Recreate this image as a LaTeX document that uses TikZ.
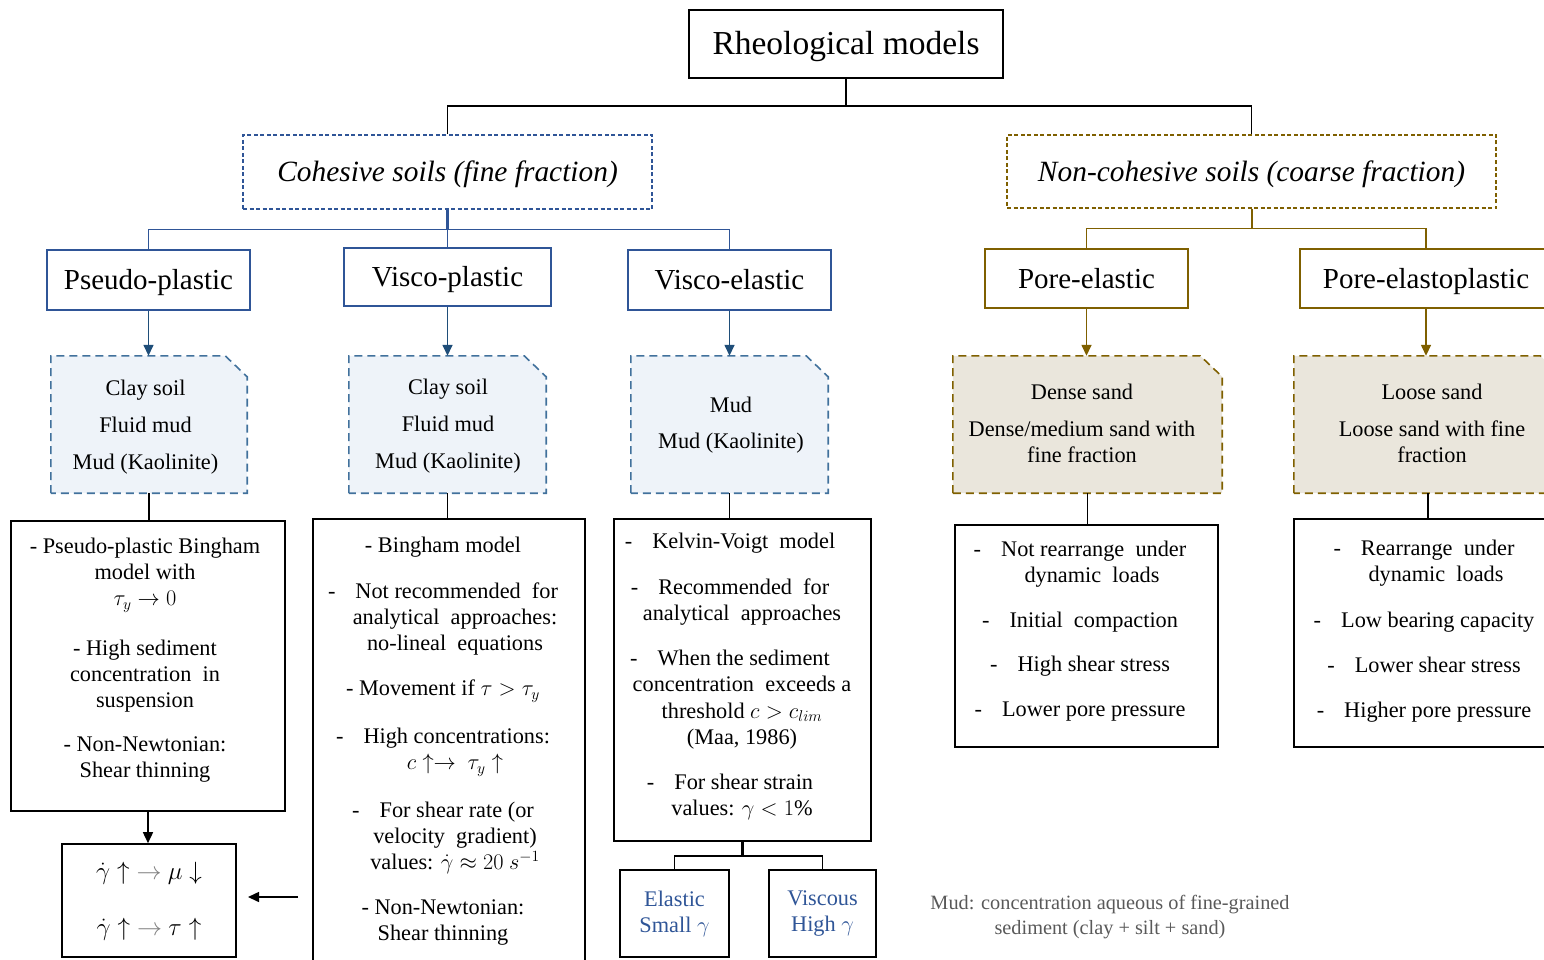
\RequirePackage{fix-cm}
\documentclass[tikz,border=0pt]{standalone}
\usepackage{fontspec}
\setmainfont{Liberation Serif}
\usetikzlibrary{arrows.meta,backgrounds,calc}
\definecolor{bluebd}{RGB}{47,85,151}
\definecolor{bluearr}{RGB}{31,78,121}
\definecolor{bluedash}{RGB}{65,113,156}
\definecolor{bluefill}{RGB}{238,243,249}
\definecolor{gold}{RGB}{127,96,0}
\definecolor{beige}{RGB}{234,230,220}
\definecolor{bluetxt}{RGB}{47,85,151}
\definecolor{graytxt}{RGB}{89,89,89}
\newcommand\docpath[3]{%
  \begin{scope}[on background layer]
    \filldraw[draw=#2, fill=#3, line width=1.6pt, dash pattern=on 8pt off 5pt]
      (#1.south west) -- (#1.north west) -- ([xshift=-22pt]#1.north east)
      -- ([yshift=-21pt]#1.north east) -- (#1.south east) -- cycle;
  \end{scope}}
\newcommand\lsh{\hspace*{-24pt}}
\newcommand\dsh{\hspace*{-24pt}-\hspace{0.9em}}
\tikzset{
  tline/.style={line width=1.5pt, draw=black},
  bline/.style={line width=1.5pt, draw=bluebd},
  gline/.style={line width=1.5pt, draw=gold},
  barr/.style={line width=1.5pt, draw=bluearr, fill=bluearr, -{Triangle[length=11pt,width=10pt]}},
  garr/.style={line width=1.5pt, draw=gold, fill=gold, -{Triangle[length=11pt,width=10pt]}},
  karr/.style={line width=1.5pt, draw=black, -{Triangle[length=11pt,width=10pt]}},
  titlebox/.style={draw, text height=22pt, text depth=0pt, line width=1.8pt, minimum width=314pt, minimum height=68pt, inner sep=0pt, font=\fontsize{33.5}{38}\selectfont},
  catbox/.style={draw, text height=19.4pt, text depth=0pt, line width=1.4pt, dash pattern=on 4pt off 2.5pt, inner sep=0pt, font=\fontsize{29.4}{34}\selectfont\itshape},
  modelbox/.style={draw, text height=19pt, text depth=0pt, line width=1.6pt, inner sep=0pt, font=\fontsize{29}{34}\selectfont},
  docbox/.style={inner sep=0pt},
  cbox/.style={draw, line width=1.6pt, inner sep=0pt},
  ct/.style={align=center, inner sep=0pt, anchor=north, font=\fontsize{22.3}{26}\selectfont},
  smallbox/.style={draw, line width=1.6pt, inner sep=0pt, align=center, text=bluetxt, font=\fontsize{22.3}{26}\selectfont},
}
\begin{document}
\begin{tikzpicture}[x=1pt,y=-1pt]
\useasboundingbox (0,0) rectangle (1544,960);

% top levels
\node[titlebox] (top) at (846,44) {Rheological models};
\node[catbox, draw=bluebd, minimum width=409pt, minimum height=74pt] (coh) at (447.5,172) {Cohesive soils (fine fraction)};
\node[catbox, draw=gold, minimum width=489pt, minimum height=73pt] (ncoh) at (1251.5,171.5) {Non-cohesive soils (coarse fraction)};

% model boxes
\node[modelbox, draw=bluebd, minimum width=203pt, minimum height=60pt] (pp) at (148.5,280) {Pseudo-plastic};
\node[modelbox, draw=bluebd, minimum width=207pt, minimum height=58pt] (vp) at (447.5,277) {Visco-plastic};
\node[modelbox, draw=bluebd, minimum width=203pt, minimum height=60pt] (ve) at (729.5,280) {Visco-elastic};
\node[modelbox, draw=gold, minimum width=203pt, minimum height=59pt] (pe) at (1086.5,278.5) {Pore-elastic};
\node[modelbox, draw=gold, minimum width=252pt, minimum height=59pt] (pep) at (1426,278.5) {Pore-elastoplastic};

% document boxes
\node[docbox, minimum width=196pt, minimum height=137pt] (d1) at (149,424.5) {};
\docpath{d1}{bluedash}{bluefill}
\node[ct] (d1t) at (145.5,380) {Clay soil\\[11pt]Fluid mud\\[11pt]Mud (Kaolinite)};
\node[docbox, minimum width=197pt, minimum height=137pt] (d2) at (447.5,424.5) {};
\docpath{d2}{bluedash}{bluefill}
\node[ct] (d2t) at (448,379) {Clay soil\\[11pt]Fluid mud\\[11pt]Mud (Kaolinite)};
\node[docbox, minimum width=197pt, minimum height=137pt] (d3) at (729.5,424.5) {};
\docpath{d3}{bluedash}{bluefill}
\node[ct] (d3t) at (731,397) {Mud\\[10pt]Mud (Kaolinite)};
\node[docbox, minimum width=269pt, minimum height=137pt] (d4) at (1087.5,424.5) {};
\docpath{d4}{gold}{beige}
\node[ct] (d4t) at (1082,384) {Dense sand\\[11pt]Dense/medium sand with\\fine fraction};
\node[docbox, minimum width=268pt, minimum height=137pt] (d5) at (1428,424.5) {};
\docpath{d5}{gold}{beige}
\node[ct] (d5t) at (1432,384) {Loose sand\\[11pt]Loose sand with fine\\fraction};

% content boxes
\node[cbox, minimum width=274pt, minimum height=290pt] (b1) at (148,666) {};
\node[ct] (b1t) at (145,538) {- Pseudo-plastic Bingham\\model with\\$\tau_y\to 0$\\[24pt]- High sediment\\concentration\ \ in\\suspension\\[18pt]- Non-Newtonian:\\Shear thinning};
\node[cbox, minimum width=272pt, minimum height=461pt] (b2) at (449,749.5) {};
\node[ct] (b2t) at (455,537) {\lsh- Bingham model\\[20pt]\dsh Not recommended\ \ for\\analytical\ \ approaches:\\no-lineal\ \ equations\\[19pt]\lsh- Movement if $\tau>\tau_y$\\[22pt]\dsh High concentrations:\\$c\uparrow\to\ \tau_y\uparrow$\\[22pt]\dsh For shear rate (or\\velocity\ \ gradient)\\values: $\dot\gamma\approx 20\ s^{-1}$\\[19pt]\lsh- Non-Newtonian:\\\lsh Shear thinning};
\node[cbox, minimum width=257pt, minimum height=322pt] (b3) at (742.5,680) {};
\node[ct, font=\fontsize{22.3}{26.5}\selectfont] (b3t) at (742,533) {\dsh Kelvin-Voigt\ \ model\\[19pt]\dsh Recommended\ \ for\\analytical\ \ approaches\\[18pt]\dsh When the sediment\\concentration\ \ exceeds a\\threshold $c>c_{lim}$\\(Maa, 1986)\\[18pt]\dsh For shear strain\\values: $\gamma<1\%$};
\node[cbox, minimum width=263pt, minimum height=222pt] (b4) at (1086.5,636) {};
\node[ct] (b4t) at (1092,541) {\dsh Not rearrange\ \ under\\dynamic\ \ loads\\[19pt]\dsh Initial\ \ compaction\\[18pt]\dsh High shear stress\\[19pt]\dsh Lower pore pressure};
\node[cbox, minimum width=268pt, minimum height=228pt] (b5) at (1428,633) {};
\node[ct] (b5t) at (1436,540) {\dsh Rearrange\ \ under\\dynamic\ \ loads\\[20pt]\dsh Low bearing capacity\\[19pt]\dsh Lower shear stress\\[19pt]\dsh Higher pore pressure};

% bottom boxes
\node[cbox, minimum width=174pt, minimum height=113pt] (fb) at (149,900.5) {};
\node[ct, anchor=center, font=\fontsize{25}{28}\selectfont] (fbt) at (149,901) {$\dot\gamma\uparrow{\color{gray}\to}\ \mu\downarrow$\\[28pt]$\dot\gamma\uparrow{\color{gray}\to}\ \tau\uparrow$};
\node[smallbox, minimum width=109pt, minimum height=87pt] (el) at (674.5,913.5) {Elastic\\Small $\gamma$};
\node[smallbox, minimum width=107pt, minimum height=87pt] (vi) at (822.5,913.5) {Viscous\\High $\gamma$};

\node[align=center, inner sep=0pt, text=graytxt, font=\fontsize{20.3}{25}\selectfont] (note) at (1110,917) {Mud: concentration aqueous of fine-grained\\sediment (clay + silt + sand)};

% connectors
\draw[tline] (top.south) -- ++(0,27) coordinate (tj) -| (coh.north);
\draw[tline] (tj) -| (ncoh.north);
\draw[bline, line width=3pt] (coh.south) -- ++(0,20) coordinate (cj);
\draw[bline] (cj) -| (pp.north);
\draw[bline] (cj) -| (ve.north);
\draw[bline] (cj) -- (vp.north);
\draw[gline, line width=2pt] (ncoh.south) -- ++(0,20) coordinate (nj);
\draw[gline] (nj) -| (pe.north);
\draw[gline] (nj) -| (pep.north);

\draw[barr] (pp.south) -- (pp.south |- d1.north);
\draw[barr] (vp.south) -- (vp.south |- d2.north);
\draw[barr] (ve.south) -- (ve.south |- d3.north);
\draw[garr] (pe.south) -- (pe.south |- d4.north);
\draw[garr] (pep.south) -- (pep.south |- d5.north);

\draw[tline] (d1.south) -- (d1.south |- b1.north);
\draw[tline] (d2.south) -- (d2.south |- b2.north);
\draw[tline] (d3.south) -- (d3.south |- b3.north);
\draw[tline] (d4.south) -- (d4.south |- b4.north);
\draw[tline] (d5.south) -- (d5.south |- b5.north);

\draw[karr] (b1.south) -- (b1.south |- fb.north);
\coordinate (aS) at (298,897);
\coordinate (aE) at (248,897);
\draw[karr] (aS) -- (aE);
\draw[tline, line width=3pt] (b3.south) -- ++(0,14) coordinate (ej);
\draw[tline] (ej) -| (el.north);
\draw[tline] (ej) -| (vi.north);
\end{tikzpicture}
\end{document}
